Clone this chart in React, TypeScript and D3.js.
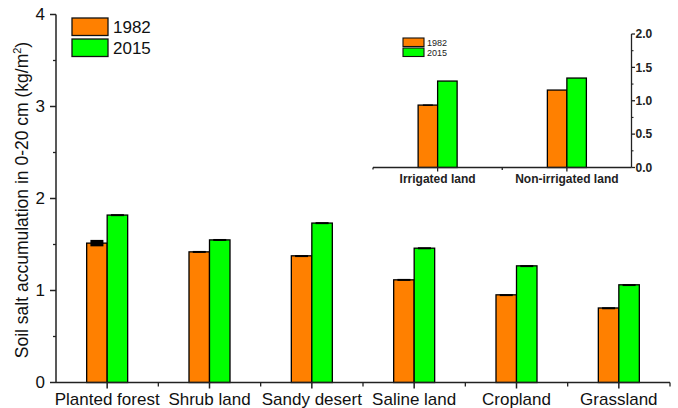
import React from 'react';
import * as d3 from 'd3';

const categories = ['Planted forest', 'Shrub land', 'Sandy desert', 'Saline land', 'Cropland', 'Grassland'];
const years = ['1982', '2015'];
const values1982 = [1.515, 1.42, 1.377, 1.116, 0.953, 0.81];
const values2015 = [1.82, 1.55, 1.733, 1.46, 1.268, 1.062];
const err1982 = [0.035, 0.01, 0.008, 0.01, 0.008, 0.008];
const err2015 = [0.01, 0.01, 0.01, 0.01, 0.008, 0.008];

const insetCategories = ['Irrigated land', 'Non-irrigated land'];
const inset1982 = [0.935, 1.16];
const inset2015 = [1.295, 1.34];
const insetErr1982 = [0.01, 0];
const insetErr2015 = [0, 0];

const yTicks = [0, 1, 2, 3, 4];
const insetTicks = [0, 0.5, 1, 1.5, 2];

const colors = ['#ff8000', '#00ff00'];
const font = '"Liberation Sans", Arial, sans-serif';

export default function App() {
  const w = 678, h = 408;

  // main panel
  const x = d3.scaleBand().domain(categories).range([56, 670]);
  const y = d3.scaleLinear().domain([0, 4]).range([382.5, 14.5]);
  const barW = 20.5;
  const minor = d3.range(0.5, 4, 1);

  // inset
  const ix = d3.scaleBand().domain(insetCategories).range([373, 631.5]);
  const iy = d3.scaleLinear().domain([0, 2]).range([167.5, 34]);
  const iBarW = 19.5;
  const iMinor = d3.range(0.25, 2, 0.5);

  const series = [values1982, values2015];
  const errs = [err1982, err2015];
  const iSeries = [inset1982, inset2015];
  const iErrs = [insetErr1982, insetErr2015];

  return (
    <svg width={w} height={h} style={{ position: 'absolute', left: 0, top: 0, background: '#fff' }} fontFamily={font}>
      {/* main bars */}
      {categories.map((c, i) => {
        const cx = x(c)! + x.bandwidth() / 2;
        return (
          <g key={c}>
            {series.map((s, k) => {
              const bx = cx - barW + k * barW;
              return (
                <g key={k}>
                  <rect x={bx} y={y(s[i])} width={barW} height={y(0) - y(s[i])}
                        fill={colors[k]} stroke="#000" strokeWidth={1.3} />
                  <rect x={bx + barW / 2 - 6.5} y={y(s[i] + errs[k][i])} width={13}
                        height={Math.max(2, y(s[i] - errs[k][i]) - y(s[i] + errs[k][i]))} fill="#000" />
                </g>
              );
            })}
          </g>
        );
      })}

      {/* main axes */}
      <line x1={56} x2={56} y1={y(4)} y2={y(0)} stroke="#222" strokeWidth={1.5} />
      <line x1={56} x2={670} y1={y(0)} y2={y(0)} stroke="#222" strokeWidth={1.5} />
      {yTicks.map(t => (
        <g key={t}>
          <line x1={50} x2={56} y1={y(t)} y2={y(t)} stroke="#222" strokeWidth={1.5} />
          <text x={45} y={y(t)} dy="0.35em" textAnchor="end" fontSize={17} fill="#111">{t}</text>
        </g>
      ))}
      {minor.map(t => (
        <line key={t} x1={53} x2={56} y1={y(t)} y2={y(t)} stroke="#222" strokeWidth={1.3} />
      ))}
      {categories.map(c => {
        const cx = x(c)! + x.bandwidth() / 2;
        return (
          <g key={c}>
            <line x1={cx} x2={cx} y1={y(0)} y2={y(0) + 6} stroke="#222" strokeWidth={1.5} />
            <line x1={x(c)! + x.bandwidth()} x2={x(c)! + x.bandwidth()} y1={y(0)} y2={y(0) + 4} stroke="#222" strokeWidth={1.3} />
            <text x={cx} y={405} textAnchor="middle" fontSize={17} fill="#111">{c}</text>
          </g>
        );
      })}
      <text transform="translate(28,200) rotate(-90)" textAnchor="middle" fontSize={17.5} fill="#111">
        Soil salt accumulation in 0-20 cm (kg/m<tspan dy={-7} fontSize={11}>2</tspan><tspan dy={7}>)</tspan>
      </text>

      {/* main legend */}
      {years.map((yr, k) => (
        <g key={yr}>
          <rect x={72} y={18 + k * 21} width={36} height={17.5} fill={colors[k]} stroke="#111" strokeWidth={1.3} />
          <text x={113} y={27 + k * 21} dy="0.35em" fontSize={17} fill="#111">{yr}</text>
        </g>
      ))}

      {/* inset bars */}
      {insetCategories.map((c, i) => {
        const cx = ix(c)! + ix.bandwidth() / 2;
        return (
          <g key={c}>
            {iSeries.map((s, k) => {
              const bx = cx - iBarW + k * iBarW;
              return (
                <g key={k}>
                  <rect x={bx} y={iy(s[i])} width={iBarW} height={iy(0) - iy(s[i])}
                        fill={colors[k]} stroke="#000" strokeWidth={1.3} />
                  {iErrs[k][i] > 0 && (
                    <rect x={bx + iBarW / 2 - 5} y={iy(s[i] + iErrs[k][i])} width={10}
                          height={Math.max(1.5, iy(s[i] - iErrs[k][i]) - iy(s[i] + iErrs[k][i]))} fill="#000" />
                  )}
                </g>
              );
            })}
            <line x1={cx} x2={cx} y1={iy(0)} y2={iy(0) + 4} stroke="#222" strokeWidth={1.3} />
            <text x={cx} y={183} textAnchor="middle" fontSize={12} fontWeight="bold" fill="#222">{c}</text>
          </g>
        );
      })}
      <line x1={373} x2={631.5} y1={iy(0)} y2={iy(0)} stroke="#222" strokeWidth={1.3} />
      <line x1={373} x2={373} y1={iy(0)} y2={iy(0) + 2} stroke="#222" strokeWidth={1.3} />
      <line x1={ix.range()[0] + ix.bandwidth()} x2={ix.range()[0] + ix.bandwidth()} y1={iy(0)} y2={iy(0) + 2.5} stroke="#222" strokeWidth={1.3} />
      <line x1={631.5} x2={631.5} y1={iy(2)} y2={iy(0)} stroke="#222" strokeWidth={1.3} />
      {insetTicks.map(t => (
        <g key={t}>
          <line x1={631.5} x2={635} y1={iy(t)} y2={iy(t)} stroke="#222" strokeWidth={1.3} />
          <text x={635.5} y={iy(t)} dy="0.35em" fontSize={12} fontWeight="bold" fill="#222">{t.toFixed(1)}</text>
        </g>
      ))}
      {iMinor.map(t => (
        <line key={t} x1={631.5} x2={633.5} y1={iy(t)} y2={iy(t)} stroke="#222" strokeWidth={1.1} />
      ))}

      {/* inset legend */}
      {years.map((yr, k) => (
        <g key={yr}>
          <rect x={403} y={38 + k * 10} width={21} height={8.5} fill={colors[k]} stroke="#111" strokeWidth={1.1} />
          <text x={427} y={42.5 + k * 10} dy="0.35em" fontSize={9} fill="#222">{yr}</text>
        </g>
      ))}
    </svg>
  );
}
